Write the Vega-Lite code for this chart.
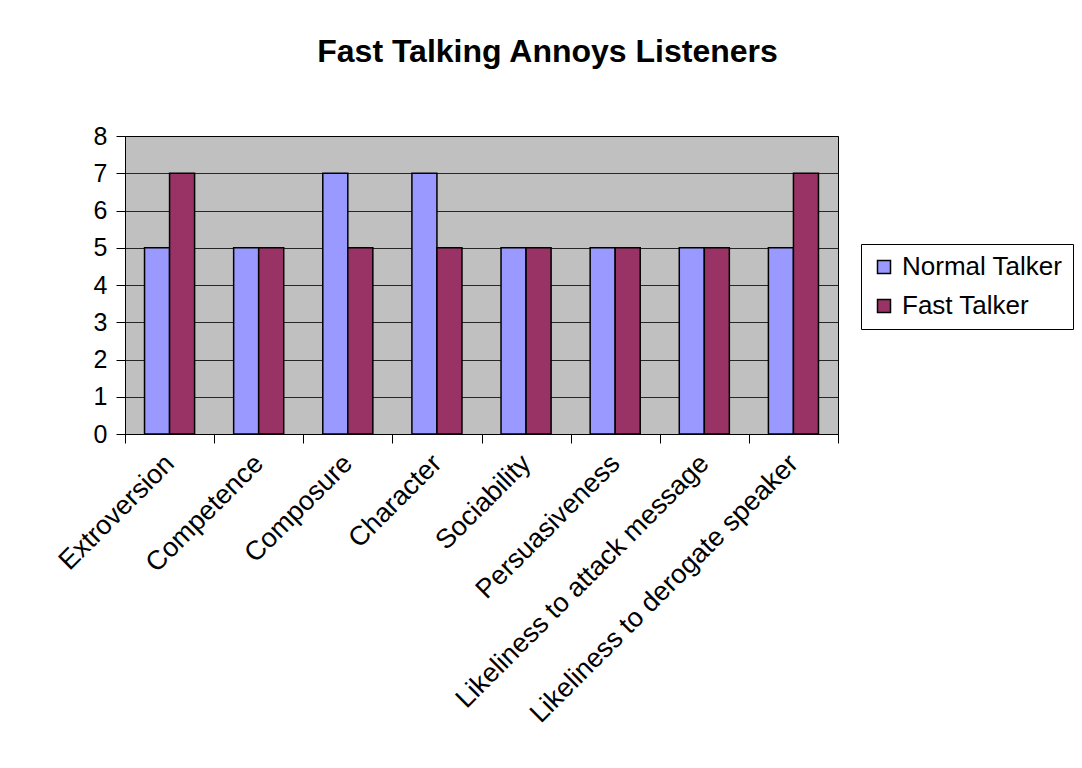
{
  "$schema": "https://vega.github.io/schema/vega-lite/v6.json",
  "width": 713,
  "height": 298,
  "autosize": {"type": "none"},
  "padding": {"left": 125, "top": 136, "right": 244, "bottom": 334},
  "background": "white",
  "title": {
    "text": "Fast Talking Annoys Listeners",
    "font": "Liberation Sans",
    "fontSize": 32,
    "fontWeight": "bold",
    "color": "black",
    "anchor": "middle",
    "dx": 66,
    "offset": 55
  },
  "data": {
    "values": [
      {"category": "Extroversion", "series": "Normal Talker", "value": 5},
      {"category": "Extroversion", "series": "Fast Talker", "value": 7},
      {"category": "Competence", "series": "Normal Talker", "value": 5},
      {"category": "Competence", "series": "Fast Talker", "value": 5},
      {"category": "Composure", "series": "Normal Talker", "value": 7},
      {"category": "Composure", "series": "Fast Talker", "value": 5},
      {"category": "Character", "series": "Normal Talker", "value": 7},
      {"category": "Character", "series": "Fast Talker", "value": 5},
      {"category": "Sociability", "series": "Normal Talker", "value": 5},
      {"category": "Sociability", "series": "Fast Talker", "value": 5},
      {"category": "Persuasiveness", "series": "Normal Talker", "value": 5},
      {"category": "Persuasiveness", "series": "Fast Talker", "value": 5},
      {"category": "Likeliness to attack message", "series": "Normal Talker", "value": 5},
      {"category": "Likeliness to attack message", "series": "Fast Talker", "value": 5},
      {"category": "Likeliness to derogate speaker", "series": "Normal Talker", "value": 5},
      {"category": "Likeliness to derogate speaker", "series": "Fast Talker", "value": 7}
    ]
  },
  "mark": {"type": "bar", "stroke": "black", "strokeWidth": 1.5},
  "encoding": {
    "x": {
      "field": "category",
      "type": "nominal",
      "sort": null,
      "scale": {"paddingInner": 0, "paddingOuter": 0},
      "axis": {
        "title": null,
        "labelAngle": -45,
        "labelAlign": "right",
        "labelBaseline": "middle",
        "labelFont": "Liberation Sans",
        "labelFontSize": 27,
        "labelColor": "black",
        "labelPadding": 16,
        "labelLimit": 500,
        "labelOverlap": false,
        "tickBand": "extent",
        "tickSize": 9,
        "tickColor": "black",
        "domainColor": "black",
        "grid": false
      }
    },
    "xOffset": {
      "field": "series",
      "type": "nominal",
      "sort": ["Normal Talker", "Fast Talker"],
      "scale": {"paddingInner": 0, "paddingOuter": 0.78}
    },
    "y": {
      "field": "value",
      "type": "quantitative",
      "scale": {"domain": [0, 8], "nice": false},
      "axis": {
        "title": null,
        "values": [0, 1, 2, 3, 4, 5, 6, 7, 8],
        "labelOverlap": false,
        "labelFont": "Liberation Sans",
        "labelFontSize": 25,
        "labelColor": "black",
        "labelPadding": 9,
        "tickSize": 9,
        "tickColor": "black",
        "domainColor": "black",
        "gridColor": "black",
        "gridOpacity": 0.8,
        "gridWidth": 1
      }
    },
    "fill": {
      "field": "series",
      "type": "nominal",
      "sort": ["Normal Talker", "Fast Talker"],
      "scale": {"domain": ["Normal Talker", "Fast Talker"], "range": ["#9999FF", "#993366"]},
      "legend": {
        "title": null,
        "orient": "none",
        "legendX": 736,
        "legendY": 108,
        "strokeColor": "black",
        "fillColor": "white",
        "padding": 10,
        "symbolType": "square",
        "symbolSize": 169,
        "symbolStrokeColor": "black",
        "symbolStrokeWidth": 1.5,
        "labelFont": "Liberation Sans",
        "labelFontSize": 26,
        "labelColor": "black",
        "labelOffset": 5,
        "rowPadding": 13,
        "labelLimit": 300
      }
    }
  },
  "config": {
    "view": {"fill": "#C0C0C0", "stroke": "black", "strokeWidth": 1}
  }
}
